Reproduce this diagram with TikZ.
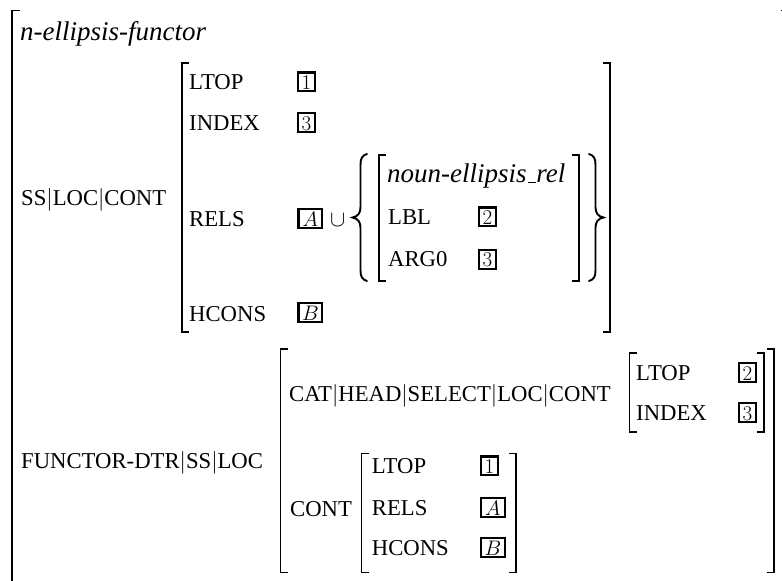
\RequirePackage{fix-cm}
\documentclass[tikz,border=0pt]{standalone}
\usepackage{fontspec}
\setmainfont{Liberation Serif}
\newcommand\avmL[3]{\draw[brk] (#1+7,#2) -- (#1,#2) -- (#1,#3) -- (#1+7,#3);}
\newcommand\avmR[3]{\draw[brk] (#1-7,#2) -- (#1,#2) -- (#1,#3) -- (#1-7,#3);}
\newcommand\tagframe[1]{\draw[tagline] (#1.south west) rectangle (#1.north east);}
\tikzset{
 feat/.style={anchor=base west, inner sep=0pt, font=\fontsize{22.7}{24}\selectfont},
 typ/.style={anchor=base west, inner sep=0pt, font=\fontsize{27}{29}\selectfont\itshape},
 tagd/.style={inner sep=0pt, outer sep=0pt, text height=16.8pt, text depth=2pt, minimum width=17pt, anchor=base west, font=\fontsize{21}{21}\selectfont},
 tagl/.style={tagd, minimum width=23.8pt},
 tagline/.style={line width=2.1pt, line join=miter},
 brk/.style={line width=1.3pt, line join=miter},
 bracestyle/.style={line width=1.9pt, line cap=round},
}
\begin{document}
\begin{tikzpicture}[x=1pt,y=-1pt]
\useasboundingbox (0,0) rectangle (782,581);
% outer matrix
\draw[brk] (19.5,10.5) -- (12,10.5) -- (12,595);
\draw[brk] (781,10.5) -- (795,10.5);
\node[typ] (type) at (20,40.7) {n-ellipsis-functor};
% SS|LOC|CONT
\node[feat] (ss) at (21,205.7) {SS$|$LOC$|$CONT};
\avmL{182}{63}{332}
\avmR{610}{63}{332}
\node[feat] (ltop) at (189,89.3) {LTOP};
\node[feat] (index) at (189,130) {INDEX};
\node[feat] (rels) at (189,226) {RELS};
\node[feat] (hcons) at (189,321) {HCONS};
\node[tagd] (t1) at (298,89.3) {$1$};
\node[tagd] (t3) at (298,130) {$3$};
\node[tagl] (tA) at (298.5,226) {$A$};
\node[feat] (cup) at (330,226) {$\cup$};
\node[tagl] (tB) at (298.5,320) {$B$};
% set braces
\draw[bracestyle] (367,154) .. controls (362,155.5) and (360.5,158.5) .. (360.5,165) -- (360.5,207)
  .. controls (360.5,213) and (358,216.5) .. (352.5,217.5)
  .. controls (358,218.5) and (360.5,222) .. (360.5,228) -- (360.5,270)
  .. controls (360.5,276.5) and (362,279.5) .. (367,281);
\avmL{379}{155}{281}
\avmR{579}{155}{281}
\draw[bracestyle] (589,154) .. controls (594,155.5) and (595.5,158.5) .. (595.5,165) -- (595.5,207)
  .. controls (595.5,213) and (598,216.5) .. (603.5,217.5)
  .. controls (598,218.5) and (595.5,222) .. (595.5,228) -- (595.5,270)
  .. controls (595.5,276.5) and (594,279.5) .. (589,281);
\node[typ] (rel) at (387,182.7) {noun-ellipsis\kern.06em\rule{0.3em}{1.2pt}rel};
\node[feat] (lbl) at (388,224.3) {LBL};
\node[feat] (arg) at (388,266.7) {ARG0};
\node[tagd] (t2i) at (479,224.3) {$2$};
\node[tagd] (t3i) at (479,266.7) {$3$};
% FUNCTOR-DTR
\node[feat] (fd) at (21,468) {FUNCTOR-DTR$|$SS$|$LOC};
\avmL{280.5}{349}{572.5}
\avmR{774}{349}{572.5}
\node[feat] (cat) at (289,401) {CAT$|$HEAD$|$SELECT$|$LOC$|$CONT};
\avmL{629.5}{353}{432}
\avmR{764}{353}{432}
\node[feat] (ltop2) at (636,380) {LTOP};
\node[feat] (index2) at (636,420) {INDEX};
\node[tagd] (t2b) at (739,380) {$2$};
\node[tagd] (t3b) at (739,420) {$3$};
\node[feat] (cont) at (290,516.7) {CONT};
\avmL{361.7}{453.3}{572.3}
\avmR{516}{453.3}{572.3}
\node[feat] (ltop3) at (371.7,473.3) {LTOP};
\node[feat] (rels3) at (371.7,515) {RELS};
\node[feat] (hcons3) at (371.7,555) {HCONS};
\node[tagd] (t1b) at (481,473.3) {$1$};
\node[tagl] (tAb) at (481,515) {$A$};
\node[tagl] (tBb) at (481,555) {$B$};
\foreach \t in {t1,t3,tA,tB,t2i,t3i,t2b,t3b,t1b,tAb,tBb}{\tagframe{\t}}
\end{tikzpicture}
\end{document}
